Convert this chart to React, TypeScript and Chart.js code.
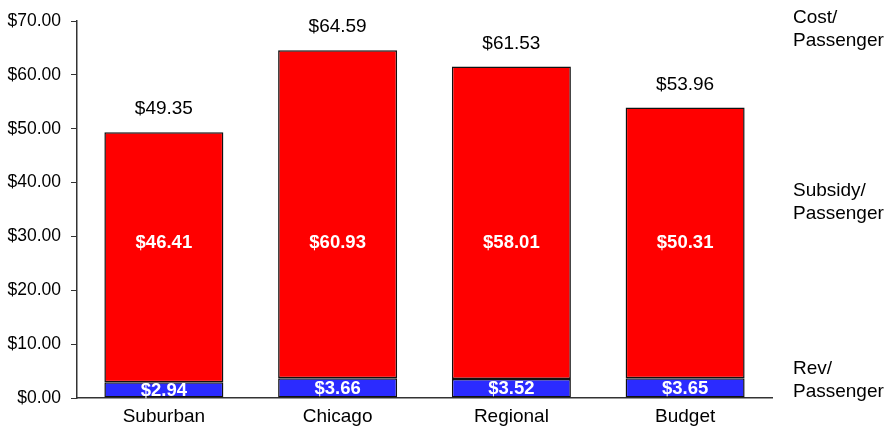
import { useEffect, useRef } from "react";
import { Chart, registerables } from "chart.js";

Chart.register(...registerables);

const categories = ["Suburban", "Chicago", "Regional", "Budget"];
const revPerPassenger = [2.94, 3.66, 3.52, 3.65];
const subsidyPerPassenger = [46.41, 60.93, 58.01, 50.31];
const costPerPassenger = [49.35, 64.59, 61.53, 53.96];
const sideLabels = [
  ["Cost/", "Passenger"],
  ["Subsidy/", "Passenger"],
  ["Rev/", "Passenger"],
];

const FONT = "'Liberation Sans', Arial, sans-serif";
const money = (v: number) => "$" + v.toFixed(2);

const labelPlugin = {
  id: "labelPlugin",
  afterDatasetsDraw(chart: any) {
    const { ctx, chartArea, scales } = chart;
    const y = scales.y;
    const revMeta = chart.getDatasetMeta(0);
    const subMeta = chart.getDatasetMeta(1);
    ctx.save();
    ctx.textAlign = "center";
    ctx.textBaseline = "middle";
    // inner labels
    ctx.fillStyle = "#ffffff";
    ctx.font = `bold 18.5px ${FONT}`;
    revMeta.data.forEach((el: any, i: number) => {
      ctx.fillText(money(revPerPassenger[i]), el.x, (el.y + el.base) / 2 + 1);
    });
    subMeta.data.forEach((el: any, i: number) => {
      ctx.fillText(money(subsidyPerPassenger[i]), el.x, y.getPixelForValue(28.8));
    });
    // totals
    ctx.fillStyle = "#000000";
    ctx.font = `19px ${FONT}`;
    subMeta.data.forEach((el: any, i: number) => {
      ctx.fillText(money(costPerPassenger[i]), el.x, el.y - 23);
    });
    // side labels
    ctx.textAlign = "left";
    const anchors = [70.6, 38.4, 5.5];
    sideLabels.forEach((lines, k) => {
      const y0 = y.getPixelForValue(anchors[k]);
      lines.forEach((t, j) => ctx.fillText(t, chartArea.right + 21, y0 + j * 23));
    });
    ctx.restore();
  },
};

export default function App() {
  const ref = useRef<HTMLCanvasElement>(null);
  useEffect(() => {
    document.body.style.margin = "0";
    const chart = new Chart(ref.current!, {
      type: "bar",
      data: {
        labels: categories,
        datasets: [
          {
            label: "Rev/Passenger",
            data: revPerPassenger,
            backgroundColor: "#2b2bff",
            borderColor: "#111111",
            borderWidth: 1.5,
            borderSkipped: false,
          },
          {
            label: "Subsidy/Passenger",
            data: subsidyPerPassenger,
            backgroundColor: "#ff0000",
            borderColor: "#111111",
            borderWidth: 1.5,
            borderSkipped: false,
          },
        ],
      },
      options: {
        animation: false,
        responsive: false,
        maintainAspectRatio: false,
        layout: { padding: { top: 21, right: 116, left: 0, bottom: 0 } },
        datasets: { bar: { categoryPercentage: 1, barPercentage: 0.685 } },
        plugins: { legend: { display: false }, tooltip: { enabled: false } },
        scales: {
          x: {
            stacked: true,
            grid: { display: true, drawOnChartArea: false, drawTicks: false },
            border: { display: true, color: "#333333", width: 1.5 },
            ticks: { color: "#000000", font: { family: FONT, size: 19 }, padding: 7 },
            afterFit: (s: any) => { s.height = 29; },
          },
          y: {
            stacked: true,
            min: 0,
            max: 70,
            grid: { display: true, drawOnChartArea: false, drawTicks: true, tickLength: 6, color: "#333333" },
            border: { display: true, color: "#333333", width: 1.5 },
            ticks: {
              stepSize: 10,
              color: "#000000",
              padding: 10,
              font: { family: FONT, size: 17.5 },
              callback: (v: any) => money(Number(v)),
            },
            afterFit: (s: any) => { s.width = 77; },
          },
        },
      },
      plugins: [labelPlugin],
    });
    return () => chart.destroy();
  }, []);
  return (
    <div style={{ position: "fixed", left: 0, top: 0, width: 888, height: 427 }}>
      <canvas ref={ref} width={888} height={427} style={{ width: 888, height: 427 }} />
    </div>
  );
}
